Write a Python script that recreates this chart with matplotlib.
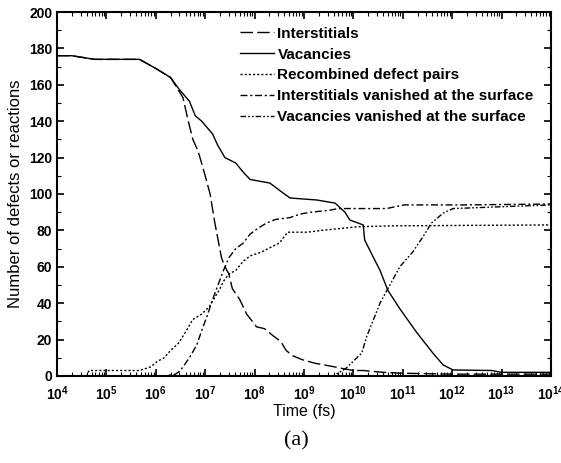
import matplotlib
matplotlib.use("Agg")
import matplotlib.pyplot as plt
import numpy as np
from matplotlib.ticker import LogLocator, MultipleLocator, FixedLocator, NullFormatter

plt.rcParams["font.family"] = ["Liberation Sans", "DejaVu Sans"]
plt.rcParams["mathtext.default"] = "regular"

# time values given as log10(t / fs)
int_logt = [4.0, 4.3, 4.76, 5.67, 6.0, 6.3, 6.46, 6.55, 6.65, 6.75, 6.85, 6.95, 7.0, 7.1,
            7.19, 7.26, 7.33, 7.4, 7.48, 7.55, 7.7, 7.84, 8.04, 8.2, 8.38, 8.53, 8.64,
            8.78, 8.96, 9.22, 9.62, 9.8, 10.0, 10.2, 10.6, 11.0, 12.0, 13.0, 14.0]
int_val = [176, 176, 174, 174, 169, 164, 157, 153, 141, 130, 124, 115, 110, 100,
           85, 75, 65, 60, 56, 48, 42, 34, 27, 26, 22, 19, 14,
           11, 9, 7, 5, 4, 3, 3, 2, 1.5, 1, 1, 1]

vac_logt = [4.0, 4.3, 4.76, 5.67, 6.0, 6.3, 6.46, 6.68, 6.8, 6.93, 7.15, 7.25, 7.4, 7.62,
            7.77, 7.91, 8.31, 8.58, 8.72, 9.26, 9.63, 9.83, 9.93, 10.2, 10.23, 10.4,
            10.54, 10.7, 10.94, 11.28, 11.61, 11.82, 12.02, 12.8, 13.0, 14.0]
vac_val = [176, 176, 174, 174, 169, 164, 158, 151, 143, 140, 133, 127, 120, 117,
           112, 108, 106, 100.5, 97.8, 96.7, 95, 90, 85.7, 83, 74.7, 65.5,
           58, 47, 37, 24, 12.6, 6, 3.3, 3, 2, 2]

rec_logt = [4.0, 4.6, 4.65, 5.67, 5.9, 6.03, 6.17, 6.3, 6.46, 6.6, 6.75, 6.93, 7.08, 7.19,
            7.3, 7.37, 7.48, 7.62, 7.77, 7.91, 8.13, 8.35, 8.5, 8.67, 9.07, 9.36, 9.72,
            10.09, 10.8, 14.0]
rec_val = [0, 0, 3, 3, 5, 8, 10, 14, 18, 24, 31, 34, 38, 43,
           48, 52, 56, 58, 63, 66, 68, 71, 73, 79, 79, 80, 81,
           82, 82.5, 83]

isurf_logt = [4.0, 6.17, 6.4, 6.5, 6.68, 6.83, 6.93, 7.04, 7.15, 7.26, 7.37, 7.48, 7.62,
              7.77, 7.91, 8.06, 8.24, 8.42, 8.71, 8.93, 9.14, 9.5, 9.7, 10.67, 11.03,
              12.26, 14.0]
isurf_val = [0, 0, 1, 3, 10, 17, 25, 33, 42, 50, 58, 65, 70,
             73, 78, 81, 84, 86, 87, 89, 90, 91, 92, 92, 94,
             94, 94.5]

vsurf_logt = [4.0, 9.6, 9.86, 10.17, 10.27, 10.54, 10.7, 10.94, 11.2, 11.41, 11.58,
              11.82, 12.02, 13.0, 14.0]
vsurf_val = [0, 0, 4.4, 12.6, 21.6, 40, 48, 60, 68, 76.5, 84, 89.5, 92, 93, 94]

labels = ["Interstitials", "Vacancies", "Recombined defect pairs",
          "Interstitials vanished at the surface", "Vacancies vanished at the surface"]

fig = plt.figure(figsize=(5.61, 4.63), dpi=100)
ax = fig.add_axes([0.1016, 0.188, 0.8804, 0.786])

lw = 1.0
ax.plot(10 ** np.array(int_logt), int_val, color="black", lw=lw, ls=(0, (9, 3)), label=labels[0])
ax.plot(10 ** np.array(vac_logt), vac_val, color="black", lw=lw, ls="-", label=labels[1])
ax.plot(10 ** np.array(rec_logt), rec_val, color="black", lw=lw, ls=(0, (1.5, 1.5)), label=labels[2])
ax.plot(10 ** np.array(isurf_logt), isurf_val, color="black", lw=lw, ls=(0, (5, 2, 1.5, 2)), label=labels[3])
ax.plot(10 ** np.array(vsurf_logt), vsurf_val, color="black", lw=lw,
        ls=(0, (4, 1.5, 1.2, 1.5, 1.2, 1.5)), label=labels[4])

ax.set_xscale("log")
ax.set_xlim(1e4, 1e14)
ax.set_ylim(0, 200)
ax.xaxis.set_major_locator(FixedLocator([10.0 ** k for k in range(4, 15)]))
ax.xaxis.set_minor_locator(LogLocator(base=10, subs=np.arange(2, 10), numticks=100))
ax.xaxis.set_minor_formatter(NullFormatter())
ax.set_xticklabels([r"$10^{%d}$" % k for k in range(4, 15)])
ax.yaxis.set_major_locator(MultipleLocator(20))
ax.yaxis.set_minor_locator(MultipleLocator(10))

ax.tick_params(which="both", direction="in", top=True, right=True, labelsize=10)
ax.tick_params(which="major", length=5, width=1.2)
ax.tick_params(which="minor", length=3, width=0.8)
ax.tick_params(axis="x", which="major", pad=6)
for lab in ax.get_xticklabels() + ax.get_yticklabels():
    lab.set_fontweight("bold")
for sp in ax.spines.values():
    sp.set_linewidth(1.5)

ax.set_xlabel("Time (fs)", fontsize=11.5, labelpad=1)
ax.set_ylabel("Number of defects or reactions", fontsize=12, labelpad=4)

leg = ax.legend(loc="upper left", bbox_to_anchor=(0.352, 0.985), frameon=False,
                prop={"weight": "bold", "size": 11}, handlelength=2.2,
                handletextpad=0.25, labelspacing=0.45, borderaxespad=0.2)

fig.text(0.529, 0.047, "(a)", ha="center", va="center", fontsize=16,
         family=["Liberation Serif", "DejaVu Serif"])

fig.savefig("out.png", dpi=100)
